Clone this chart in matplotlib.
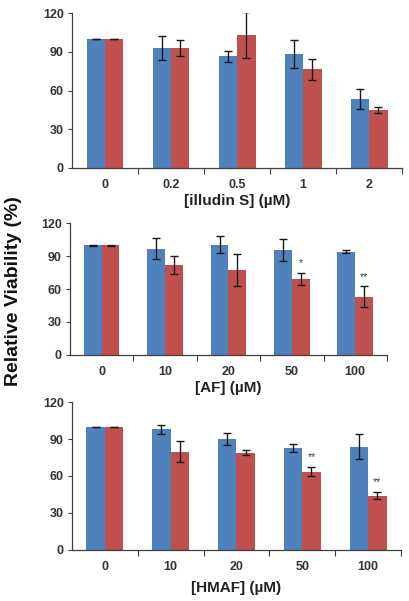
import numpy as np
import matplotlib
matplotlib.use('Agg')
import matplotlib.pyplot as plt

plt.rcParams['font.family'] = ['Liberation Sans', 'DejaVu Sans']

# ***************** data **************************************************
illudin_labels = ['0', '0.2', '0.5', '1', '2']
illudin_blue = [100, 93.4, 86.5, 88.3, 53.4]
illudin_blue_err = [0.3, 9.3, 4.5, 10.7, 7.6]
illudin_red = [100, 92.9, 103.2, 76.4, 45.2]
illudin_red_err = [0.3, 6.0, 18.0, 8.0, 2.3]

af_labels = ['0', '10', '20', '50', '100']
af_blue = [100, 96.9, 100.5, 95.6, 94.1]
af_blue_err = [0.4, 9.5, 7.6, 10.2, 1.1]
af_red = [100, 81.6, 77.4, 69.4, 53.0]
af_red_err = [0.4, 8.3, 14.2, 5.3, 9.4]
af_stars = ['', '', '', '*', '**']

hmaf_labels = ['0', '10', '20', '50', '100']
hmaf_blue = [100, 98.0, 90.1, 83.1, 83.9]
hmaf_blue_err = [0.3, 3.4, 5.2, 3.3, 10.0]
hmaf_red = [100, 79.8, 79.0, 63.5, 44.0]
hmaf_red_err = [0.3, 8.4, 2.2, 3.9, 2.7]
hmaf_stars = ['', '', '', '**', '**']

panels = [
    ('[illudin S] (\u00b5M)', illudin_labels, illudin_blue, illudin_blue_err,
     illudin_red, illudin_red_err, None, [0.1756, 0.7205, 0.805, 0.2574], 2),
    ('[AF] (\u00b5M)', af_labels, af_blue, af_blue_err,
     af_red, af_red_err, af_stars, [0.1707, 0.4098, 0.773, 0.2186], 2),
    ('[HMAF] (\u00b5M)', hmaf_labels, hmaf_blue, hmaf_blue_err,
     hmaf_red, hmaf_red_err, hmaf_stars, [0.1756, 0.0854, 0.8024, 0.2452], 6),
]

blue = '#4F81BD'
red = '#C0504D'
tick_color = '#333333'
width = 0.28

fig = plt.figure(figsize=(4.10, 6.01), dpi=100)

for xlabel, labels, b, be, r, re, stars, rect, lpad in panels:
    ax = fig.add_axes(rect)
    x = np.arange(len(labels))
    ax.bar(x - width / 2, b, width, color=blue, zorder=2)
    ax.bar(x + width / 2, r, width, color=red, zorder=2)
    ax.errorbar(x - width / 2, b, yerr=be, fmt='none', ecolor='#1a1a1a',
                elinewidth=1.0, capsize=2.6, capthick=1.0, zorder=3)
    ax.errorbar(x + width / 2, r, yerr=re, fmt='none', ecolor='#1a1a1a',
                elinewidth=1.0, capsize=2.6, capthick=1.0, zorder=3)
    if stars is not None:
        for xi, yi, ei, s in zip(x, r, re, stars):
            if s:
                ax.text(xi + width / 2, yi + ei + 4, s, ha='center', va='bottom',
                        fontsize=7.5, color='#404040')
    ax.set_xlim(-0.5, len(labels) - 0.5)
    ax.set_ylim(0, 120)
    ax.set_yticks([0, 30, 60, 90, 120])
    ax.set_xticks(x)
    ax.set_xticklabels(labels)
    ax.set_xticks(np.arange(len(labels)) + 0.5, minor=True)
    ax.tick_params(axis='x', which='major', length=0, pad=8,
                   labelsize=9, labelcolor=tick_color)
    ax.tick_params(axis='x', which='minor', length=4, width=0.8,
                   direction='out', color='#404040')
    ax.tick_params(axis='y', length=3, width=0.8, direction='out', pad=3,
                   labelsize=9, labelcolor=tick_color, color='#404040')
    for lab in ax.get_xticklabels() + ax.get_yticklabels():
        lab.set_fontweight('bold')
    for side in ['top', 'right']:
        ax.spines[side].set_visible(False)
    for side in ['left', 'bottom']:
        ax.spines[side].set_color('#404040')
        ax.spines[side].set_linewidth(0.9)
    ax.set_xlabel(xlabel, fontsize=11, fontweight='bold', color='#222222', labelpad=lpad)

fig.text(0.034, 0.515, 'Relative Viability (%)', rotation=90, ha='center',
         va='center', fontsize=14, fontweight='bold', color='#111111')

fig.savefig('out.png', dpi=100)
